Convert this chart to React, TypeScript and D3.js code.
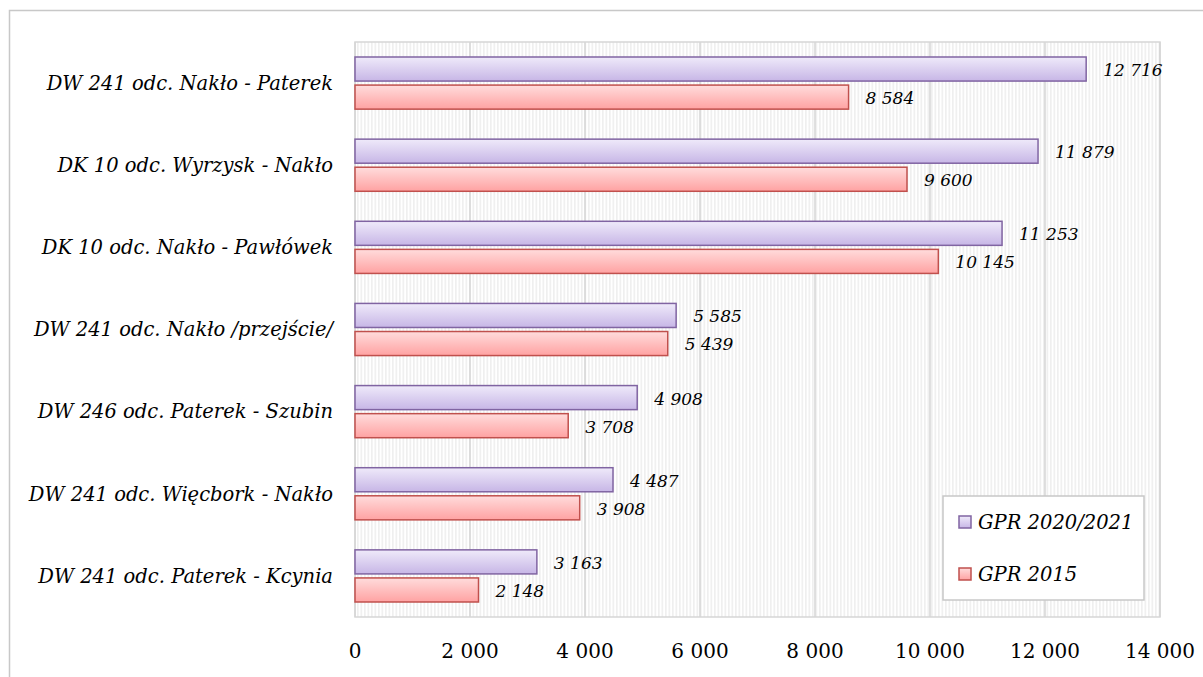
import React from 'react';
import * as d3 from 'd3';

const categories = [
  'DW 241 odc. Nakło - Paterek',
  'DK 10 odc. Wyrzysk - Nakło',
  'DK 10 odc. Nakło - Pawłówek',
  'DW 241 odc. Nakło /przejście/',
  'DW 246 odc. Paterek - Szubin',
  'DW 241 odc. Więcbork - Nakło',
  'DW 241 odc. Paterek - Kcynia',
];
const seriesNames = ['GPR 2020/2021', 'GPR 2015'];
const gpr2021 = [12716, 11879, 11253, 5585, 4908, 4487, 3163];
const gpr2015 = [8584, 9600, 10145, 5439, 3708, 3908, 2148];
const xTicks = [0, 2000, 4000, 6000, 8000, 10000, 12000, 14000];

const W = 1203;
const H = 677;
const plot = { left: 355, right: 1160, top: 42, bottom: 617 };

const fmt = (v: number) => d3.format(',')(v).replace(/,/g, ' ');

const styles = [
  { fill: 'url(#gPurple)', stroke: '#8064a2' },
  { fill: 'url(#gRed)', stroke: '#c0504d' },
];

const serif = '"DejaVu Serif", "Liberation Serif", serif';

export default function App() {
  const x = d3.scaleLinear().domain([0, 14000]).range([plot.left, plot.right]);
  const y = d3.scaleBand<string>().domain(categories).range([plot.top, plot.bottom]);
  const sub = d3
    .scaleBand<string>()
    .domain(seriesNames)
    .range([15, y.bandwidth() - 15])
    .paddingInner(0.143);
  const values = [gpr2021, gpr2015];

  return (
    <svg width={W} height={H} style={{ position: 'absolute', left: 0, top: 0 }}>
      <defs>
        <linearGradient id="gPurple" x1="0" y1="0" x2="0" y2="1">
          <stop offset="0" stopColor="#efeafa" />
          <stop offset="1" stopColor="#c7b6e6" />
        </linearGradient>
        <linearGradient id="gRed" x1="0" y1="0" x2="0" y2="1">
          <stop offset="0" stopColor="#ffdcdc" />
          <stop offset="1" stopColor="#ffa2a2" />
        </linearGradient>
        <pattern id="stripes" width="3.5" height="10" patternUnits="userSpaceOnUse">
          <rect x="0" y="0" width="1.6" height="10" fill="#efefef" />
        </pattern>
      </defs>
      <rect x={0} y={0} width={W} height={H} fill="#fff" />
      <rect x={9.5} y={10.5} width={W} height={H} fill="none" stroke="#c8c8c8" strokeWidth={1.5} />

      {/* plot area */}
      <rect
        x={plot.left}
        y={plot.top}
        width={plot.right - plot.left}
        height={plot.bottom - plot.top}
        fill="url(#stripes)"
      />
      {xTicks.map((t) => (
        <line
          key={t}
          x1={x(t)}
          x2={x(t)}
          y1={plot.top}
          y2={plot.bottom}
          stroke="#d6d6d6"
          strokeWidth={1.5}
        />
      ))}
      <rect
        x={plot.left}
        y={plot.top}
        width={plot.right - plot.left}
        height={plot.bottom - plot.top}
        fill="none"
        stroke="#d6d6d6"
        strokeWidth={1.5}
      />

      {/* bars */}
      {categories.map((c, i) => (
        <g key={c} transform={`translate(0,${y(c)})`}>
          {seriesNames.map((s, k) => {
            const v = values[k][i];
            const by = sub(s) as number;
            return (
              <g key={s}>
                <rect
                  x={x(0)}
                  y={by}
                  width={x(v) - x(0)}
                  height={sub.bandwidth()}
                  fill={styles[k].fill}
                  stroke={styles[k].stroke}
                  strokeWidth={1.5}
                />
                <text
                  x={x(v) + 17}
                  y={by + sub.bandwidth() / 2 + 1}
                  dy="0.35em"
                  fontFamily={serif}
                  fontStyle="italic"
                  fontSize={17}
                  fill="#000"
                >
                  {fmt(v)}
                </text>
              </g>
            );
          })}
          <text
            x={333}
            y={y.bandwidth() / 2}
            dy="0.35em"
            textAnchor="end"
            fontFamily={serif}
            fontStyle="italic"
            fontSize={19.5}
            fill="#000"
          >
            {c}
          </text>
        </g>
      ))}

      {/* x axis labels */}
      {xTicks.map((t) => (
        <text
          key={t}
          x={x(t)}
          y={651}
          dy="0.35em"
          textAnchor="middle"
          fontFamily={serif}
          fontSize={20}
          fill="#000"
        >
          {fmt(t)}
        </text>
      ))}

      {/* legend */}
      <g>
        <rect x={943} y={496} width={201} height={104} fill="#fff" stroke="#c8c8c8" strokeWidth={1.5} />
        {seriesNames.map((s, k) => (
          <g key={s} transform={`translate(959,${522 + k * 52})`}>
            <rect
              x={0}
              y={-6}
              width={12}
              height={12}
              fill={styles[k].fill}
              stroke={styles[k].stroke}
              strokeWidth={1.5}
            />
            <text
              x={19}
              y={0}
              dy="0.35em"
              fontFamily={serif}
              fontStyle="italic"
              fontSize={19.5}
              fill="#000"
            >
              {s}
            </text>
          </g>
        ))}
      </g>
    </svg>
  );
}
